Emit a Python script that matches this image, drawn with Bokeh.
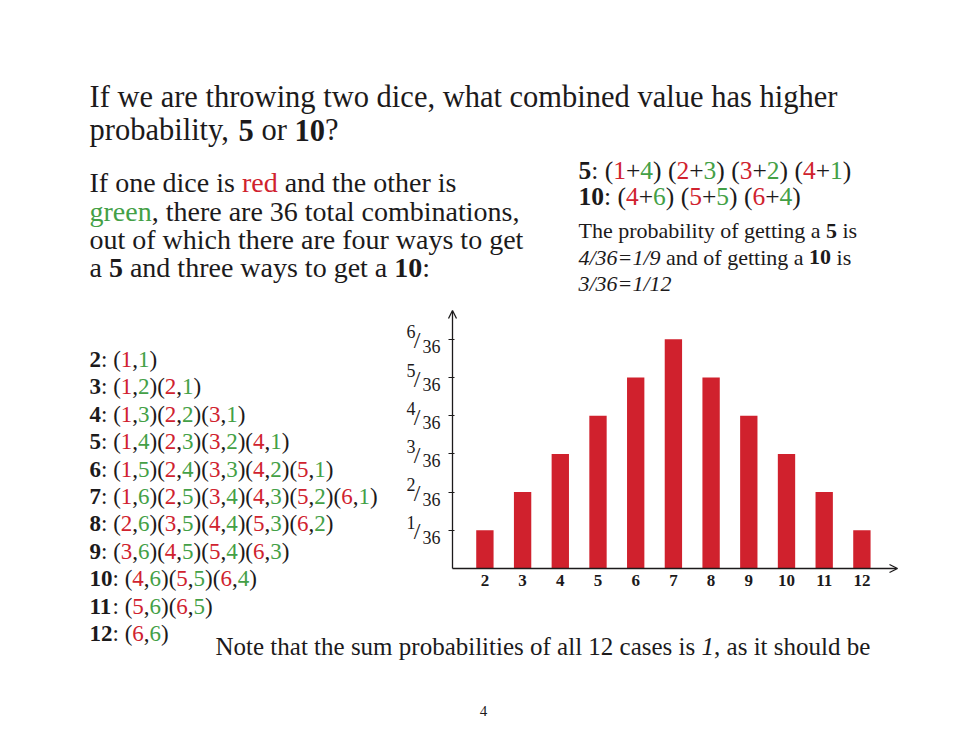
from bokeh.plotting import figure
from bokeh.layouts import column
from bokeh.models import (Range1d, FixedTicker, ColumnDataSource, Arrow, OpenHead,
                          CustomJSTickFormatter)
from bokeh.core.properties import value
from bokeh.embed import file_html
from bokeh.resources import INLINE

# ---------------- data ----------------
sums = [2, 3, 4, 5, 6, 7, 8, 9, 10, 11, 12]
probs = [1/36, 2/36, 3/36, 4/36, 5/36, 6/36, 5/36, 4/36, 3/36, 2/36, 1/36]
x_tick_labels = ["2", "3", "4", "5", "6", "7", "8", "9", "10", "11", "12"]
y_ticks = [1/36, 2/36, 3/36, 4/36, 5/36, 6/36]
y_tick_num = ["1", "2", "3", "4", "5", "6"]
y_tick_den = ["36", "36", "36", "36", "36", "36"]

list_sums = [2, 3, 4, 5, 6, 7, 8, 9, 10, 11, 12]
list_pairs = [
    [(1, 1)],
    [(1, 2), (2, 1)],
    [(1, 3), (2, 2), (3, 1)],
    [(1, 4), (2, 3), (3, 2), (4, 1)],
    [(1, 5), (2, 4), (3, 3), (4, 2), (5, 1)],
    [(1, 6), (2, 5), (3, 4), (4, 3), (5, 2), (6, 1)],
    [(2, 6), (3, 5), (4, 4), (5, 3), (6, 2)],
    [(3, 6), (4, 5), (5, 4), (6, 3)],
    [(4, 6), (5, 5), (6, 4)],
    [(5, 6), (6, 5)],
    [(6, 6)],
]
combo_sums = [5, 10]
combo_pairs = [[(1, 4), (2, 3), (3, 2), (4, 1)], [(4, 6), (5, 5), (6, 4)]]

title_line1 = "If we are throwing two dice, what combined value has higher"
title_line2 = [("probability, ", "normal", "k"), ("5", "bold", "k"), (" or ", "normal", "k"),
               ("10", "bold", "k"), ("?", "normal", "k")]
para_lines = [
    [("If one dice is ", "normal", "k"), ("red", "normal", "r"), (" and the other is", "normal", "k")],
    [("green", "normal", "g"), (", there are 36 total combinations,", "normal", "k")],
    [("out of which there are four ways to get", "normal", "k")],
    [("a ", "normal", "k"), ("5", "bold", "k"), (" and three ways to get a ", "normal", "k"),
     ("10", "bold", "k"), (":", "normal", "k")],
]
prob_lines = [
    [("The probability of getting a ", "normal", "k"), ("5", "bold", "k"), (" is", "normal", "k")],
    [("4/36=1/9", "italic", "k"), (" and of getting a ", "normal", "k"), ("10", "bold", "k"),
     (" is", "normal", "k")],
    [("3/36=1/12", "italic", "k")],
]
note_line = [("Note that the sum probabilities of all 12 cases is ", "normal", "k"),
             ("1", "italic", "k"), (", as it should be", "normal", "k")]
page_number = "4"

# ---------------- styles ----------------
FONT = "Liberation Serif"
K = "#1c1a1b"
RED = "#d0222e"
GREEN = "#43a046"
BAR = "#d0212d"
COLORS = {"k": K, "r": RED, "g": GREEN}
BASE_SHIFT = 0.33   # rendered alphabetic baseline sits this many em lower

W_REG = {' ': 250, '!': 333, '(': 333, ')': 333, '+': 564, ',': 250, '-': 333, '.': 250,
         '/': 278, ':': 278, '=': 564, '?': 444,
         'A': 722, 'B': 667, 'C': 667, 'D': 722, 'E': 611, 'F': 556, 'G': 722, 'H': 722,
         'I': 333, 'J': 389, 'K': 722, 'L': 611, 'M': 889, 'N': 722, 'O': 722, 'P': 556,
         'Q': 722, 'R': 667, 'S': 556, 'T': 611, 'U': 722, 'V': 722, 'W': 944, 'X': 722,
         'Y': 722, 'Z': 611,
         'a': 444, 'b': 500, 'c': 444, 'd': 500, 'e': 444, 'f': 333, 'g': 500, 'h': 500,
         'i': 278, 'j': 278, 'k': 500, 'l': 278, 'm': 778, 'n': 500, 'o': 500, 'p': 500,
         'q': 500, 'r': 333, 's': 389, 't': 278, 'u': 500, 'v': 500, 'w': 722, 'x': 500,
         'y': 500, 'z': 444}
for d in "0123456789":
    W_REG[d] = 500
W_BOLD = dict(W_REG)
W_BOLD.update({':': 333})
W_IT = dict(W_REG)
W_IT.update({'=': 675})
TABLES = {"normal": W_REG, "bold": W_BOLD, "italic": W_IT}


def tw(s, style, size):
    t = TABLES[style]
    return sum(t.get(ch, 500) for ch in s) / 1000.0 * size


def merge(runs):
    out = []
    for r in runs:
        if out and out[-1][1] == r[1] and out[-1][2] == r[2]:
            out[-1] = (out[-1][0] + r[0], r[1], r[2])
        else:
            out.append(r)
    return out


def new_rows():
    return dict(x=[], y=[], text=[], color=[], style=[], size=[], align=[])


def add_line(rows, runs, x0, y, size, align="left"):
    x = x0
    yy = y - BASE_SHIFT * size
    for text, style, ck in merge(runs):
        body = text.lstrip(" ")
        x += tw(text[:len(text) - len(body)], style, size)
        rows["x"].append(x)
        rows["y"].append(yy)
        rows["text"].append(body)
        rows["color"].append(COLORS[ck])
        rows["style"].append(style)
        rows["size"].append(f"{size}px")
        rows["align"].append(align)
        x += tw(body, style, size)


rows = new_rows()
# title
add_line(rows, [(title_line1, "normal", "k")], 89, 107, 30.5)
add_line(rows, title_line2, 89, 140, 30.5)
# paragraph
for i, ln in enumerate(para_lines):
    add_line(rows, ln, 89, 191.5 + 28.4 * i, 28)
# combos on right
for i, (s, prs) in enumerate(zip(combo_sums, combo_pairs)):
    runs = [(str(s), "bold", "k"), (": ", "normal", "k")]
    for j, (a, b) in enumerate(prs):
        if j > 0:
            runs.append((" ", "normal", "k"))
        runs += [("(", "normal", "k"), (str(a), "normal", "r"), ("+", "normal", "k"),
                 (str(b), "normal", "g"), (")", "normal", "k")]
    add_line(rows, runs, 578, 178 + 26.5 * i, 25.5)
for i, ln in enumerate(prob_lines):
    add_line(rows, ln, 578, 237.5 + 26.5 * i, 22)
# left list
for i, (s, prs) in enumerate(zip(list_sums, list_pairs)):
    runs = [(str(s), "bold", "k"), (": ", "normal", "k")]
    for a, b in prs:
        runs += [("(", "normal", "k"), (str(a), "normal", "r"), (",", "normal", "k"),
                 (str(b), "normal", "g"), (")", "normal", "k")]
    add_line(rows, runs, 89, 366.5 + 27.4 * i, 23)
# note
add_line(rows, note_line, 215, 654, 25)

# ---------------- main figure ----------------
W, H = 960, 700
BL, BB = 50, 30          # left / bottom borders (axis panels)
X0_PX, DX_PX = 484.4, 37.7     # pixel of sum=2, pixel per unit
Y0_PX, DY_PX = 568.0, 1375.2   # pixel of p=0, pixel per unit probability


def xd(px):
    return 2 + (px - X0_PX) / DX_PX


def yd(py):
    return (Y0_PX - py) / DY_PX


p = figure(width=W, height=H,
           x_range=Range1d(xd(BL), xd(W)), y_range=Range1d(yd(H - BB), yd(0)),
           output_backend="svg", toolbar_location=None,
           min_border_left=BL, min_border_right=0, min_border_top=0, min_border_bottom=BB)
p.extra_x_ranges = {"px": Range1d(BL, W)}
p.extra_y_ranges = {"px": Range1d(H - BB, 0)}
p.title.visible = False
p.outline_line_color = None
p.background_fill_color = "white"
p.border_fill_color = "white"
p.xgrid.visible = False
p.ygrid.visible = False

AXIS_X = xd(452)
X_TIP = xd(897)
Y_TIP = yd(310)

bars = ColumnDataSource(dict(x=sums, top=probs))
p.vbar(x="x", top="top", width=0.46, source=bars, fill_color=BAR, line_color=None)

# x axis
xa = p.xaxis[0]
xa.fixed_location = 0
xa.ticker = FixedTicker(ticks=sums)
xa.major_label_overrides = dict(zip(sums, x_tick_labels))
xa.major_tick_line_color = None
xa.minor_tick_line_color = None
xa.axis_line_color = None
xa.major_label_text_font = FONT
xa.major_label_text_font_size = "17px"
xa.major_label_text_font_style = "bold"
xa.major_label_text_color = K
xa.major_label_standoff = 0

# y axis
ya = p.yaxis[0]
ya.fixed_location = AXIS_X
ya.ticker = FixedTicker(ticks=y_ticks)
ya.formatter = CustomJSTickFormatter(code="return '';")
ya.minor_tick_line_color = None
ya.major_tick_in = 2
ya.major_tick_out = 4
ya.major_tick_line_color = K
ya.major_tick_line_width = 1.2
ya.axis_line_color = None

# axis lines with arrow heads
p.add_layout(Arrow(end=OpenHead(size=8, line_color=K, line_width=1.3),
                   x_start=AXIS_X, y_start=0, x_end=X_TIP, y_end=0,
                   line_color=K, line_width=1.3))
p.add_layout(Arrow(end=OpenHead(size=8, line_color=K, line_width=1.3),
                   x_start=AXIS_X, y_start=0, x_end=AXIS_X, y_end=Y_TIP,
                   line_color=K, line_width=1.3))

# y tick fractions (numerator / slash / denominator)
yt = ColumnDataSource(dict(y=y_ticks, num=y_tick_num, den=y_tick_den, sl=["/"] * len(y_ticks)))
p.text(x=410.5, y="y", text="num", source=yt, x_range_name="px",
       text_font=value(FONT), text_font_size="18px", text_color=K,
       text_align="center", text_baseline="middle", y_offset=-7.5)
p.text(x=416.5, y="y", text="sl", source=yt, x_range_name="px",
       text_font=value(FONT), text_font_size="24px", text_color=K,
       text_align="center", text_baseline="middle", y_offset=1)
p.text(x=422, y="y", text="den", source=yt, x_range_name="px",
       text_font=value(FONT), text_font_size="18px", text_color=K,
       text_align="left", text_baseline="middle", y_offset=7)

# page texts
src = ColumnDataSource(rows)
p.text(x="x", y="y", text="text", source=src, x_range_name="px", y_range_name="px",
       text_font=value(FONT), text_font_size="size", text_font_style="style",
       text_color="color", text_align="align", text_baseline="alphabetic")

# ---------------- page number strip ----------------
PH = 28
pn = figure(width=W, height=PH, x_range=Range1d(BL, W), y_range=Range1d(H + PH, H),
            output_backend="svg", toolbar_location=None, x_axis_type=None, y_axis_type=None,
            min_border_left=BL, min_border_right=0, min_border_top=0, min_border_bottom=0)
pn.title.visible = False
pn.outline_line_color = None
pn.xgrid.visible = False
pn.ygrid.visible = False
prow = new_rows()
add_line(prow, [(page_number, "normal", "k")], 483, 715, 15, align="center")
pn.text(x="x", y="y", text="text", source=ColumnDataSource(prow),
        text_font=value(FONT), text_font_size="size", text_font_style="style",
        text_color="color", text_align="align", text_baseline="alphabetic")

layout = column(p, pn, spacing=0)
open("out.html", "w").write(file_html(layout, INLINE))
